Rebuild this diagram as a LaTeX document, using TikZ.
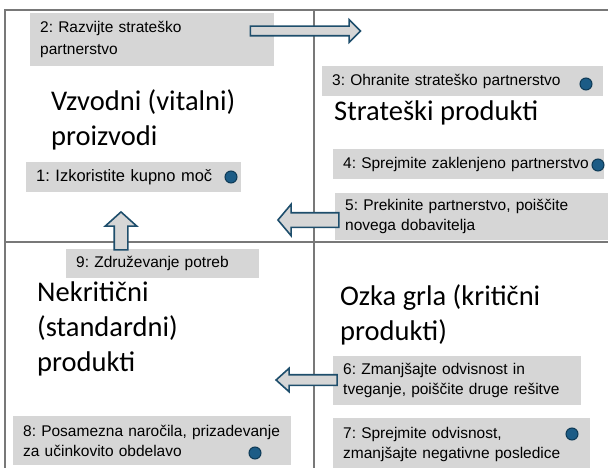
\documentclass[tikz,border=0pt]{standalone}
\usepackage{fontspec}
\usetikzlibrary{shapes.arrows, positioning}
\newfontfamily\labelfont{Liberation Sans}
\newfontfamily\titlefont{Carlito}
\definecolor{boxgray}{RGB}{214,214,214}
\definecolor{dotblue}{RGB}{28,92,134}
\definecolor{dotedge}{RGB}{14,58,86}
\definecolor{arrowedge}{RGB}{30,78,108}
\definecolor{framegray}{RGB}{120,120,120}
\frenchspacing
\hyphenpenalty=10000
\tikzstyle{frame} = [draw=framegray, line width=1.2pt]
\tikzstyle{tip} = [rectangle, anchor=north west, fill=boxgray, inner xsep=10pt, inner ysep=0pt, align=left, font=\labelfont\fontsize{15.5}{20}\selectfont]
\tikzstyle{title} = [anchor=west, inner sep=0pt, align=left, font=\titlefont\fontsize{28.5}{35}\selectfont]
\tikzstyle{dot} = [circle, fill=dotblue, draw=dotedge, line width=1pt, minimum size=12pt, inner sep=0pt]
\tikzstyle{bigarrow} = [single arrow, draw=arrowedge, fill=boxgray, line width=1.6pt, inner xsep=0pt, minimum width=0pt]

\begin{document}
\begin{tikzpicture}[x=1pt, y=-1pt]
	\useasboundingbox (0,0) rectangle (608,468);
	% quadrant lines
	\draw [frame] (608,10) -- (5,10) -- (5,468);
	\draw [frame] (5,242) -- (608,242);
	\draw [frame] (314,10) -- (314,468);

	% upper left
	\node (box2) [tip, text width=224pt, minimum height=53pt, font=\labelfont\fontsize{15.5}{22}\selectfont] at (30,13) {2: Razvijte strateško\\partnerstvo};
	\node (vzvodni) [title] at (51,120) {Vzvodni (vitalni)\\proizvodi};
	\node (box1) [tip, text width=195pt, minimum height=30pt, font=\labelfont\fontsize{16.5}{20}\selectfont] at (26,162) {1: Izkoristite kupno moč};
		\node (dot1) [dot] at (231,177) {};

	% upper right
	\node (box3) [tip, text width=261pt, minimum height=30pt] at (322,66) {3: Ohranite strateško partnerstvo};
		\node (dot3) [dot] at (586,84) {};
	\node (strateski) [title] at (334,113) {Strateški produkti};
	\node (box4) [tip, text width=251pt, minimum height=30pt] at (333,149) {4: Sprejmite zaklenjeno partnerstvo};
		\node (dot4) [dot] at (598,165) {};
	\node (box5) [tip, text width=253pt, minimum height=47pt] at (335,193) {5: Prekinite partnerstvo, poiščite\\novega dobavitelja};

	% lower left
	\node (box9) [tip, text width=173pt, minimum height=29pt] at (66,249) {9: Združevanje potreb};
	\node (nekriticni) [title] at (37,329) {Nekritični\\(standardni)\\produkti};
	\node (box8) [tip, text width=258pt, minimum height=49pt] at (13,416) {8: Posamezna naročila, prizadevanje\\za učinkovito obdelavo};
		\node (dot8) [dot] at (255,453) {};

	% lower right
	\node (ozka) [title] at (340,315) {Ozka grla (kritični\\produkti)};
	\node (box6) [tip, text width=228pt, minimum height=49pt] at (333,356) {6: Zmanjšajte odvisnost in\\tveganje, poiščite druge rešitve};
	\node (box7) [tip, text width=237pt, minimum height=52pt] at (333,418) {7: Sprejmite odvisnost,\\zmanjšajte negativne posledice};
		\node (dot7) [dot] at (572,434) {};

	% block arrows
	\node (arr2) [bigarrow, inner ysep=4pt, single arrow head extend=6.5pt, minimum height=110pt] at (303,31) {};
	\node (arr5) [bigarrow, rotate=180, inner ysep=6.5pt, single arrow head extend=8.5pt, single arrow tip angle=100, minimum height=61pt] at (311.5,220) {};
	\node (arr9) [bigarrow, rotate=90, inner ysep=6pt, single arrow head extend=9pt, single arrow tip angle=96, minimum height=38pt] at (121,234) {};
	\node (arr6) [bigarrow, rotate=180, inner ysep=4.5pt, single arrow head extend=6.5pt, single arrow tip angle=84, minimum height=61pt] at (309.5,380) {};
\end{tikzpicture}
\end{document}
